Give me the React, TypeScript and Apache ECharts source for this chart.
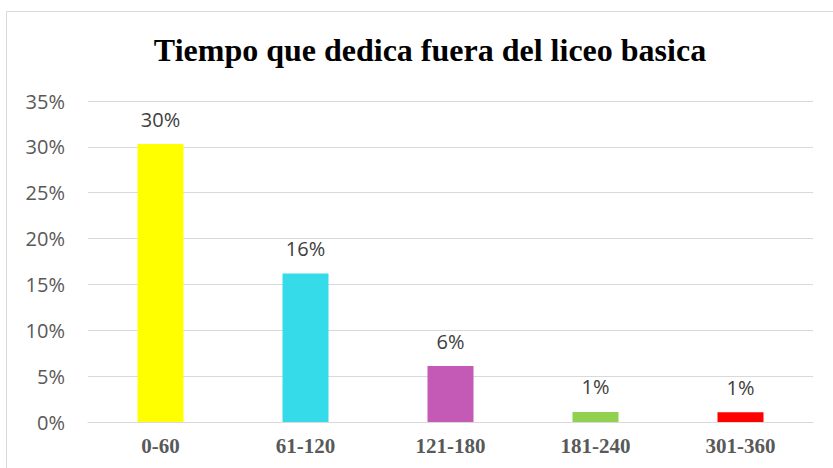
import React, { useEffect, useRef } from "react";
import * as echarts from "echarts";

const categories = ["0-60", "61-120", "121-180", "181-240", "301-360"];
const values = [30.3, 16.2, 6.1, 1.1, 1.05];
const barColors = ["#FFFF00", "#36DBE9", "#C55AB6", "#92D050", "#FF0000"];
const titleText = "Tiempo que dedica fuera del liceo basica";

export default function App() {
  const ref = useRef<HTMLDivElement>(null);
  useEffect(() => {
    if (!ref.current) return;
    const chart = echarts.init(ref.current, undefined, { renderer: "svg" });
    chart.setOption({
      animation: false,
      backgroundColor: "#ffffff",
      title: {
        text: titleText,
        left: 425,
        textAlign: "center",
        top: 29,
        textStyle: {
          fontFamily: "Liberation Serif",
          fontWeight: "bold",
          fontSize: 32,
          color: "#000000",
        },
      },
      graphic: [
        {
          type: "rect",
          shape: { x: 6.5, y: 11.5, width: 900, height: 600 },
          style: { fill: "none", stroke: "#d9d9d9", lineWidth: 1 },
          silent: true,
        },
      ],
      grid: { left: 88, right: 20, top: 101, bottom: 46 },
      xAxis: {
        type: "category",
        data: categories,
        axisTick: { show: false },
        axisLine: { lineStyle: { color: "#d9d9d9", width: 1 } },
        axisLabel: {
          margin: 13,
          fontFamily: "Liberation Serif",
          fontWeight: "bold",
          fontSize: 21,
          color: "#595959",
        },
      },
      yAxis: {
        type: "value",
        min: 0,
        max: 35,
        interval: 5,
        axisLine: { show: false },
        axisTick: { show: false },
        splitLine: { lineStyle: { color: "#d9d9d9", width: 1 } },
        axisLabel: {
          formatter: "{value}%",
          margin: 23,
          fontFamily: "Open Sans",
          fontSize: 20,
          color: "#595959",
        },
      },
      series: [
        {
          type: "bar",
          barWidth: 46,
          data: values.map((v, i) => ({ value: v, itemStyle: { color: barColors[i] } })),
          label: {
            show: true,
            position: "top",
            distance: 15,
            formatter: (p: any) => Math.round(p.value) + "%",
            fontFamily: "Open Sans",
            fontSize: 20,
            color: "#404040",
          },
        },
      ],
    });
    return () => chart.dispose();
  }, []);
  return (
    <div
      ref={ref}
      style={{ position: "fixed", left: 0, top: 0, width: 833, height: 468 }}
    />
  );
}
